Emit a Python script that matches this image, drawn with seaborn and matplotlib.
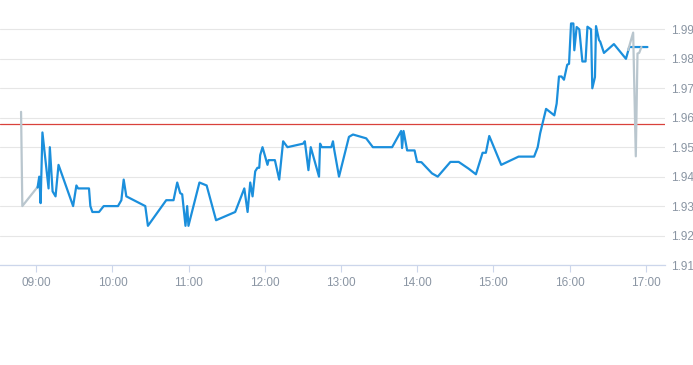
import pandas as pd
import numpy as np
import matplotlib
matplotlib.use("Agg")
import matplotlib.pyplot as plt
import matplotlib.dates as mdates
import seaborn as sns

# %% data
pre_times = ["08:48:00", "08:49:00", "09:01:00"]
pre_prices = [1.962, 1.930, 1.9365]

day_times = [
    "09:01:00", "09:02:20", "09:03:25", "09:04:50", "09:09:40", "09:10:40", "09:12:50",
    "09:15:10", "09:17:30", "09:29:00", "09:31:35", "09:32:55", "09:41:30", "09:42:35",
    "09:44:10", "09:49:25", "09:53:05", "10:04:20", "10:07:00", "10:08:50", "10:10:55",
    "10:25:50", "10:27:55", "10:42:20", "10:48:05", "10:51:00", "10:53:20", "10:54:55",
    "10:57:30", "10:58:50", "10:59:50", "11:08:30", "11:14:10", "11:21:35", "11:36:40",
    "11:43:50", "11:46:25", "11:48:30", "11:50:20", "11:52:25", "11:54:10", "11:55:35",
    "11:56:20", "11:58:10", "12:00:20", "12:02:05", "12:02:55", "12:07:55", "12:11:20",
    "12:14:25", "12:17:50", "12:30:10", "12:31:30", "12:34:20", "12:36:10", "12:42:40",
    "12:43:30", "12:44:50", "12:52:20", "12:53:40", "12:54:30", "12:58:25", "13:06:15",
    "13:09:25", "13:19:50", "13:25:05", "13:40:15", "13:47:20", "13:48:05", "13:49:15",
    "13:52:05", "13:57:55", "13:59:55", "14:03:20", "14:11:40", "14:16:10", "14:26:10",
    "14:32:40", "14:40:30", "14:46:15", "14:51:30", "14:54:05", "14:56:45", "15:06:10",
    "15:19:50", "15:32:05", "15:34:55", "15:36:50", "15:41:30", "15:48:00", "15:49:50",
    "15:51:40", "15:53:40", "15:55:35", "15:58:10", "15:59:35", "16:01:10", "16:03:00",
    "16:03:45", "16:05:35", "16:07:40", "16:10:05", "16:12:35", "16:14:05", "16:16:55",
    "16:17:55", "16:20:00", "16:20:50", "16:23:10", "16:24:10", "16:27:05", "16:34:55",
    "16:44:25", "16:47:00", "17:01:20",
]
day_prices = [
    1.9363, 1.940, 1.931, 1.955, 1.936, 1.950, 1.935,
    1.9333, 1.944, 1.930, 1.937, 1.936, 1.936, 1.930,
    1.928, 1.928, 1.930, 1.930, 1.932, 1.939, 1.9333,
    1.930, 1.9233, 1.932, 1.932, 1.938, 1.9344, 1.934,
    1.9233, 1.930, 1.9233, 1.938, 1.937, 1.9252, 1.928,
    1.936, 1.928, 1.938, 1.9333, 1.9418, 1.943, 1.943,
    1.9473, 1.950, 1.9467, 1.944, 1.9456, 1.9456, 1.939,
    1.952, 1.950, 1.9512, 1.952, 1.9422, 1.950, 1.940,
    1.9512, 1.950, 1.950, 1.952, 1.9495, 1.940, 1.9535,
    1.9543, 1.953, 1.950, 1.950, 1.9555, 1.9497, 1.9555,
    1.9489, 1.9489, 1.945, 1.9449, 1.9411, 1.940, 1.945,
    1.945, 1.9427, 1.9408, 1.9481, 1.9481, 1.9538, 1.944,
    1.9468, 1.9468, 1.950, 1.9547, 1.963, 1.9608, 1.9648,
    1.974, 1.974, 1.9729, 1.978, 1.9783, 1.992, 1.992,
    1.9829, 1.9908, 1.990, 1.9791, 1.9791, 1.9909, 1.990,
    1.970, 1.9738, 1.9911, 1.9864, 1.9858, 1.982, 1.985,
    1.980, 1.984, 1.984,
]

post_times = ["16:46:10", "16:50:05", "16:52:10", "16:53:30", "16:54:50", "16:56:35"]
post_prices = [1.983, 1.9889, 1.9469, 1.9818, 1.982, 1.984]

prev_close = 1.958
y_ticks = [1.91, 1.92, 1.93, 1.94, 1.95, 1.96, 1.97, 1.98, 1.99]
x_ticks = ["09:00", "10:00", "11:00", "12:00", "13:00", "14:00", "15:00", "16:00", "17:00"]


def to_dt(times):
    return pd.to_datetime(["2024-01-02 " + t for t in times])


pre = pd.DataFrame({"time": to_dt(pre_times), "price": pre_prices})
day = pd.DataFrame({"time": to_dt(day_times), "price": day_prices})
post = pd.DataFrame({"time": to_dt(post_times), "price": post_prices})

# %% plot
sns.set_style("white")
plt.rcParams["font.family"] = ["Liberation Sans", "DejaVu Sans"]

fig = plt.figure(figsize=(6.93, 3.65), dpi=100)
ax = fig.add_axes([0.0, 1 - 265 / 365, 665 / 693, (265 - 22) / 365])

blue = "#1b8fdc"
grey = "#b9c6ce"
sns.lineplot(data=pre, x="time", y="price", ax=ax, color=grey, linewidth=1.6)
sns.lineplot(data=day, x="time", y="price", ax=ax, color=blue, linewidth=1.6)
sns.lineplot(data=post, x="time", y="price", ax=ax, color=grey, linewidth=1.6)
ax.axhline(prev_close, color="#d9413b", linewidth=0.9, zorder=1)

ax.set_xlim(pd.Timestamp("2024-01-02 08:31:25"), pd.Timestamp("2024-01-02 17:15:10"))
ax.set_ylim(1.91, 1.9925)

ax.set_yticks(y_ticks)
ax.set_yticklabels([f"{v:.2f}" for v in y_ticks])
ax.yaxis.tick_right()
ax.yaxis.grid(True, color="#e6e6e6", linewidth=0.8)
ax.xaxis.grid(False)

ax.set_xticks(to_dt([t + ":00" for t in x_ticks]))
ax.set_xticklabels(x_ticks)

for side in ["top", "left", "right"]:
    ax.spines[side].set_visible(False)
ax.spines["bottom"].set_color("#ccd6eb")
ax.spines["bottom"].set_linewidth(0.9)

ax.tick_params(axis="x", bottom=True, length=5, width=0.8, color="#ccd6eb",
               labelsize=8.5, labelcolor="#8a95a3", pad=4)
ax.tick_params(axis="y", right=False, length=0, labelsize=8.5,
               labelcolor="#8a95a3", pad=4)
ax.set_xlabel("")
ax.set_ylabel("")

fig.savefig("out.png", dpi=100)
